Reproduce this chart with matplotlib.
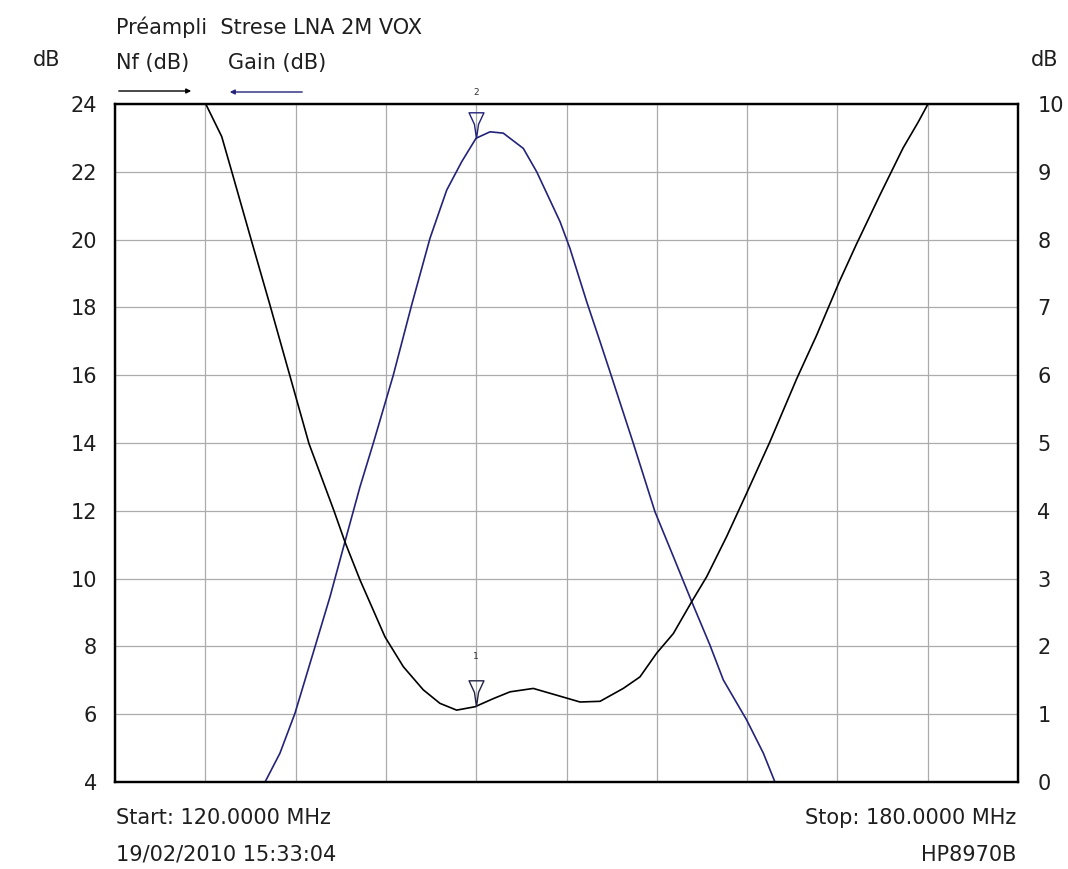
import numpy as np
import matplotlib
matplotlib.use("Agg")
import matplotlib.pyplot as plt
from matplotlib.path import Path
from matplotlib.patches import FancyArrowPatch

plt.rcParams['font.family'] = ['DejaVu Sans']

# ---- data ----
nf_freq = [120.0, 126.03, 127.09, 127.75, 129.02, 130.29, 131.61, 132.89, 134.55, 135.28,
           136.28, 137.94, 139.16, 140.48, 141.59, 142.70, 143.92, 145.14, 146.25, 147.79,
           149.35, 150.90, 152.23, 153.77, 154.88, 155.99, 157.10, 158.32, 159.32, 160.64,
           161.97, 163.52, 165.30, 166.62, 168.17, 169.24, 170.83, 172.36, 173.36, 174.02,
           180.0]
nf_db = [10.0, 10.0, 9.52, 9.01, 8.02, 7.04, 6.00, 4.99, 4.00, 3.54,
         2.98, 2.14, 1.70, 1.36, 1.16, 1.06, 1.11, 1.23, 1.33, 1.38,
         1.28, 1.18, 1.19, 1.38, 1.55, 1.90, 2.19, 2.66, 3.03, 3.62,
         4.26, 5.02, 5.95, 6.59, 7.40, 7.92, 8.66, 9.35, 9.73, 10.0,
         10.0]

gain_freq = [120.0, 129.97, 130.96, 131.96, 133.29, 134.29, 135.28, 136.28, 137.16, 138.49,
             139.71, 140.93, 142.04, 143.04, 143.99, 144.92, 145.80, 147.13, 148.02, 149.57,
             150.23, 151.34, 152.23, 152.89, 154.44, 155.88, 157.10, 158.32, 159.53, 160.42,
             161.97, 163.08, 163.85, 180.0]
gain_db = [4.0, 4.0, 4.85, 6.03, 7.99, 9.47, 11.09, 12.71, 13.99, 16.0,
           18.07, 20.04, 21.46, 22.30, 22.99, 23.18, 23.14, 22.69, 22.0, 20.53,
           19.74, 18.17, 16.99, 16.10, 13.99, 11.97, 10.65, 9.32, 8.04, 7.01,
           5.83, 4.85, 4.0, 4.0]

left_ticks = [4, 6, 8, 10, 12, 14, 16, 18, 20, 22, 24]
right_ticks = [0, 1, 2, 3, 4, 5, 6, 7, 8, 9, 10]
freq_grid = [120, 126, 132, 138, 144, 150, 156, 162, 168, 174, 180]
marker_freq = [144.0]

title = "Préampli  Strese LNA 2M VOX"
start_label = "Start: 120.0000 MHz"
stop_label = "Stop: 180.0000 MHz"
date_label = "19/02/2010 15:33:04"
instr_label = "HP8970B"

BLUE = "#23237a"
TXT = "#1e1e1e"
FS = 15

W, H = 1068, 869
fig = plt.figure(figsize=(W / 100, H / 100), dpi=100)
fig.patch.set_facecolor("white")

def fx(px):
    return px / W

def fy(py):
    return 1 - py / H

ax = fig.add_axes([fx(115), fy(782), fx(1018) - fx(115), fy(104) - fy(782)])
ax2 = ax.twinx()

ax.set_xlim(120, 180)
ax.set_ylim(4, 24)
ax2.set_ylim(0, 10)

ax.set_xticks(freq_grid)
ax.set_xticklabels([])
ax.tick_params(axis='x', length=0)
ax.set_yticks(left_ticks)
ax.set_yticklabels([str(t) for t in left_ticks])
ax.tick_params(axis='y', length=0, pad=13, labelsize=FS, colors=TXT)
ax2.set_yticks(right_ticks)
ax2.set_yticklabels([str(t) for t in right_ticks])
ax2.tick_params(axis='y', length=0, pad=14, labelsize=FS, colors=TXT)

ax.grid(True, color='#ababab', lw=0.9)
ax.set_axisbelow(True)
for a in (ax, ax2):
    for s in a.spines.values():
        s.set_linewidth(1.6)
        s.set_color('black')

ax.plot(gain_freq, gain_db, color=BLUE, lw=1.2, zorder=3)
ax2.plot(nf_freq, nf_db, color='black', lw=1.2, zorder=3)

# marker shape: funnel pointing down with its tip on the trace
mk = Path([(-0.29, 1.0), (0.29, 1.0), (0.08, 0.55), (0.0, 0.0), (-0.08, 0.55), (-0.29, 1.0)],
          [Path.MOVETO, Path.LINETO, Path.LINETO, Path.LINETO, Path.LINETO, Path.CLOSEPOLY])

g_m = np.interp(marker_freq, gain_freq, gain_db)
n_m = np.interp(marker_freq, nf_freq, nf_db)
ax.plot(marker_freq, g_m, marker=mk, markersize=37, mfc='none', mec=BLUE, mew=1.0,
        linestyle='none', zorder=4)
ax2.plot(marker_freq, n_m, marker=mk, markersize=37, mfc='none', mec='#222244', mew=1.0,
         linestyle='none', zorder=4)
for f, v in zip(marker_freq, g_m):
    ax.annotate("2", xy=(f, v), xytext=(0, 33), textcoords='offset points',
                ha='center', va='center', fontsize=6.5, color='#333333')
for f, v in zip(marker_freq, n_m):
    ax2.annotate("1", xy=(f, v), xytext=(0, 36), textcoords='offset points',
                 ha='center', va='center', fontsize=6.5, color='#333333')

fig.text(fx(116), fy(34), title, ha='left', va='baseline', fontsize=FS, color=TXT)
fig.text(fx(33), fy(66), "dB", ha='left', va='baseline', fontsize=FS, color=TXT)
fig.text(fx(1031), fy(66), "dB", ha='left', va='baseline', fontsize=FS, color=TXT)
fig.text(fx(116), fy(69), "Nf (dB)", ha='left', va='baseline', fontsize=FS, color=TXT)
fig.text(fx(228), fy(69), "Gain (dB)", ha='left', va='baseline', fontsize=FS, color=TXT)

fig.add_artist(FancyArrowPatch(
    (fx(116), fy(91)), (fx(194), fy(91)), transform=fig.transFigure,
    arrowstyle='-|>', mutation_scale=7, lw=1.0, color='black'))
fig.add_artist(FancyArrowPatch(
    (fx(305), fy(92)), (fx(227), fy(92)), transform=fig.transFigure,
    arrowstyle='-|>', mutation_scale=7, lw=1.0, color=BLUE))

fig.text(fx(116), fy(824), start_label, ha='left', va='baseline', fontsize=FS, color=TXT)
fig.text(fx(116), fy(861), date_label, ha='left', va='baseline', fontsize=FS, color=TXT)
fig.text(fx(1016), fy(824), stop_label, ha='right', va='baseline', fontsize=FS, color=TXT)
fig.text(fx(1016), fy(861), instr_label, ha='right', va='baseline', fontsize=FS, color=TXT)

fig.savefig("out.png", dpi=100, facecolor='white')
